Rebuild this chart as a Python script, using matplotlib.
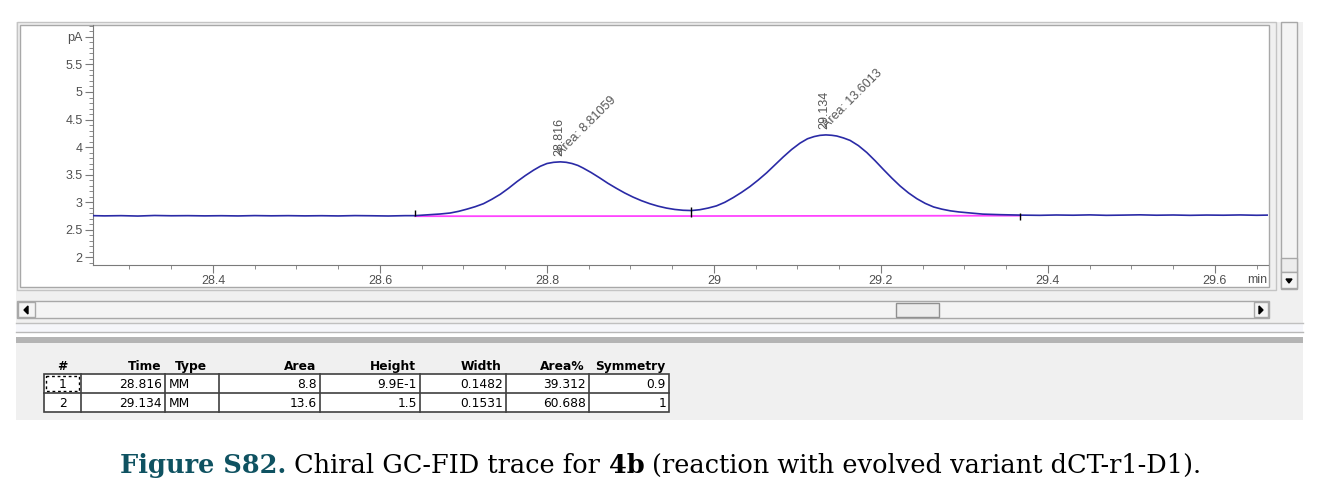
import matplotlib
matplotlib.use("Agg")
import matplotlib.pyplot as plt
from matplotlib.patches import Rectangle, Polygon
from matplotlib.ticker import MultipleLocator, FixedLocator, FixedFormatter

# ---- chromatogram trace (time in min, signal in pA)
trace_time = [28.256, 28.27, 28.29, 28.31, 28.33, 28.35, 28.37, 28.39, 28.41, 28.43,
              28.45, 28.47, 28.49, 28.51, 28.53, 28.55, 28.57, 28.59, 28.61, 28.63,
              28.642, 28.66, 28.672, 28.684, 28.694, 28.704, 28.714, 28.724, 28.734, 28.744,
              28.754, 28.764, 28.774, 28.784, 28.792, 28.80, 28.808, 28.816, 28.823, 28.83,
              28.837, 28.843, 28.853, 28.863, 28.873, 28.883, 28.893, 28.903, 28.913, 28.923,
              28.933, 28.943, 28.953, 28.963, 28.973, 28.983, 28.993, 29.003, 29.013, 29.023,
              29.033, 29.043, 29.053, 29.063, 29.073, 29.083, 29.093, 29.103, 29.112, 29.12,
              29.127, 29.134, 29.141, 29.147, 29.155, 29.163, 29.173, 29.183, 29.193, 29.203,
              29.213, 29.223, 29.233, 29.243, 29.253, 29.263, 29.273, 29.283, 29.293, 29.303,
              29.322, 29.343, 29.367,
              29.39, 29.41, 29.43, 29.45, 29.47, 29.49, 29.51, 29.53, 29.55, 29.57,
              29.59, 29.61, 29.63, 29.65, 29.663]
trace_signal = [2.752, 2.748, 2.752, 2.745, 2.755, 2.750, 2.752, 2.748, 2.751, 2.747,
                2.753, 2.749, 2.752, 2.748, 2.751, 2.747, 2.753, 2.750, 2.746, 2.752,
                2.752, 2.770, 2.782, 2.800, 2.830, 2.870, 2.915, 2.970, 3.050, 3.140,
                3.250, 3.370, 3.480, 3.580, 3.650, 3.700, 3.722, 3.730, 3.722, 3.700,
                3.665, 3.620, 3.535, 3.440, 3.340, 3.250, 3.165, 3.090, 3.025, 2.970,
                2.925, 2.890, 2.865, 2.850, 2.845, 2.860, 2.890, 2.930, 2.995, 3.080,
                3.175, 3.280, 3.400, 3.530, 3.675, 3.820, 3.955, 4.070, 4.150, 4.190,
                4.212, 4.220, 4.213, 4.200, 4.165, 4.120, 4.025, 3.900, 3.750, 3.590,
                3.435, 3.290, 3.165, 3.060, 2.975, 2.910, 2.870, 2.840, 2.820, 2.806,
                2.780, 2.770, 2.762,
                2.758, 2.764, 2.760, 2.766, 2.758, 2.762, 2.767, 2.760, 2.764, 2.758,
                2.763, 2.760, 2.765, 2.759, 2.762]

# integration baseline and event marks
base_time = [28.642, 28.973, 29.367]
base_signal = [2.742, 2.745, 2.752]
event_time = [28.642, 28.973, 29.367]
event_lo = [2.75, 2.73, 2.67]
event_hi = [2.855, 2.915, 2.80]

# peak table
peak_no = ["1", "2"]
peak_rt = [28.816, 29.134]
peak_type = ["MM", "MM"]
peak_area = ["8.8", "13.6"]
peak_height = ["9.9E-1", "1.5"]
peak_width = ["0.1482", "0.1531"]
peak_pct = ["39.312", "60.688"]
peak_sym = ["0.9", "1"]
peak_area_full = ["8.81059", "13.6013"]
peak_top = [3.73, 4.22]

x_labels = ["28.4", "28.6", "28.8", "29", "29.2", "29.4", "29.6"]
y_ticks = [2, 2.5, 3, 3.5, 4, 4.5, 5, 5.5, 6]
y_labels = ["2", "2.5", "3", "3.5", "4", "4.5", "5", "5.5", "pA"]

W, H = 1322, 498
fig = plt.figure(figsize=(W / 100, H / 100), dpi=100)
fig.patch.set_facecolor("white")

# background axes in pixel units for the window chrome, table and caption
bg = fig.add_axes([0, 0, 1, 1])
bg.set_xlim(0, W)
bg.set_ylim(H, 0)
bg.axis("off")
bg.set_zorder(0)


def box(x0, y0, x1, y1, fc, ec="none", lw=1.0):
    bg.add_patch(Rectangle((x0, y0), x1 - x0, y1 - y0, facecolor=fc, edgecolor=ec, linewidth=lw))


panel = "#f0f0f0"
edge = "#a8a8a8"
box(16, 22, 1303, 326, panel)
# chart frame
box(17, 22, 1276, 290, panel, "#c4c4c4")
box(20, 25, 1269, 287, "white", edge)
# vertical scrollbar
box(1281, 22, 1297, 289, "#f4f4f4", edge)
box(1281, 258, 1297, 272, "#ececec", edge)
box(1281, 272, 1297, 288, "#f4f4f4", edge)
bg.add_patch(Polygon([[1286, 279], [1292, 279], [1289, 283]], color="black"))
# horizontal scrollbar
box(17, 301, 1269, 318, "#f4f4f4", edge)
box(18, 302, 35, 317, "#f4f4f4", edge)
box(1254, 302, 1268, 317, "#f4f4f4", edge)
box(896, 303, 939, 317, "#ececec", "#909090")
bg.add_patch(Polygon([[24, 310], [28, 306], [28, 314]], color="black"))
bg.add_patch(Polygon([[1263, 310], [1259, 306], [1259, 314]], color="black"))
# splitter
box(16, 324, 1303, 332, "#f5f6fa")
bg.plot([16, 1303], [323, 323], color="#c0c0c0", lw=1)
bg.plot([16, 1303], [332, 332], color="#b8b8b8", lw=1)
box(16, 337, 1303, 343, "#b4b4b4")
box(16, 343, 1303, 420, panel)

# ---- table
cols = [44, 81, 165, 219, 320, 420, 506, 589, 669]
row_top = [374, 393]
row_h = 19
tfont = dict(family="DejaVu Sans", fontsize=8.8, color="black")
headers = ["#", "Time", "Type", "Area", "Height", "Width", "Area%", "Symmetry"]
for i, h in enumerate(headers):
    if i == 0:
        bg.text((cols[0] + cols[1]) / 2, 366, h, ha="center", va="center", weight="bold", **tfont)
    elif i == 2:
        bg.text(cols[2] + 10, 366, h, ha="left", va="center", weight="bold", **tfont)
    else:
        bg.text(cols[i + 1] - 4, 366, h, ha="right", va="center", weight="bold", **tfont)

box(cols[0], row_top[0], cols[-1], row_top[-1] + row_h, "white", "#404040", 1.2)
for c in cols[1:-1]:
    bg.plot([c, c], [row_top[0], row_top[-1] + row_h], color="#404040", lw=1.2)
bg.plot([cols[0], cols[-1]], [row_top[1], row_top[1]], color="#404040", lw=1.2)
# dashed focus box on the first cell
bg.add_patch(Rectangle((cols[0] + 2, row_top[0] + 2), cols[1] - cols[0] - 4, row_h - 4,
                       fill=False, edgecolor="black", linestyle=(0, (2, 2)), linewidth=1))

for r in range(2):
    yc = row_top[r] + row_h / 2 + 0.5
    cells = [peak_no[r], f"{peak_rt[r]:.3f}", peak_type[r], peak_area[r], peak_height[r],
             peak_width[r], peak_pct[r], peak_sym[r]]
    for i, val in enumerate(cells):
        if i == 0:
            bg.text((cols[0] + cols[1]) / 2, yc, val, ha="center", va="center", **tfont)
        elif i == 2:
            bg.text(cols[2] + 4, yc, val, ha="left", va="center", **tfont)
        else:
            bg.text(cols[i + 1] - 3, yc, val, ha="right", va="center", **tfont)

# ---- caption, drawn piece by piece
renderer = fig.canvas.get_renderer()
cap_size = 18.45
pieces = [("Figure S82.", "bold", "#0f5261"),
          ("Chiral GC-FID trace for", "normal", "black"),
          ("4b", "bold", "black"),
          ("(reaction with evolved variant dCT-r1-D1).", "normal", "black")]
sp = bg.text(0, 0, "x x", fontsize=cap_size, family="DejaVu Serif")
sp2 = bg.text(0, 0, "xx", fontsize=cap_size, family="DejaVu Serif")
space_w = sp.get_window_extent(renderer).width - sp2.get_window_extent(renderer).width
sp.remove()
sp2.remove()
cx = 120
for txt, wt, col in pieces:
    t = bg.text(cx, 465, txt, fontsize=cap_size, family="DejaVu Serif", weight=wt,
                color=col, ha="left", va="center")
    cx += t.get_window_extent(renderer).width + space_w

# ---- chromatogram axes
x0, x1 = 93, 1268
y0, y1 = 25, 265
ax = fig.add_axes([x0 / W, 1 - y1 / H, (x1 - x0) / W, (y1 - y0) / H])
ax.set_zorder(2)
ax.patch.set_alpha(0)
ax.plot(trace_time, trace_signal, color="#2a2aa6", lw=1.2, zorder=3)
ax.plot(base_time, base_signal, color="#ff44ff", lw=1.3, zorder=2)
ax.vlines(event_time, event_lo, event_hi, color="black", lw=1.0, zorder=4)

ax.set_xlim(28.2563, 29.6635)
ax.set_ylim(1.855, 6.218)
for s in ["top", "right"]:
    ax.spines[s].set_visible(False)
for s in ["left", "bottom"]:
    ax.spines[s].set_color("#7a7a7a")

ax.xaxis.set_major_locator(FixedLocator([28.4, 28.6, 28.8, 29.0, 29.2, 29.4, 29.6]))
ax.xaxis.set_major_formatter(FixedFormatter(x_labels))
ax.xaxis.set_minor_locator(MultipleLocator(0.05))
ax.yaxis.set_major_locator(FixedLocator(y_ticks))
ax.yaxis.set_major_formatter(FixedFormatter(y_labels))
ax.yaxis.set_minor_locator(MultipleLocator(0.1))
lab_font = dict(family="Liberation Sans", size=9)
for lab in ax.get_xticklabels() + ax.get_yticklabels():
    lab.set_fontfamily("Liberation Sans")
    lab.set_fontsize(9)
ax.tick_params(axis="both", which="major", length=6, color="#7a7a7a", labelcolor="#505050")
ax.tick_params(axis="both", which="minor", length=3, color="#7a7a7a")
ax.tick_params(axis="x", which="major", pad=1.5)
ax.tick_params(axis="y", which="major", pad=1.5)
ax.text(29.65, -0.038, "min", transform=ax.get_xaxis_transform(), ha="center", va="top",
        color="#505050", **lab_font)

for rt, top, area in zip(peak_rt, peak_top, peak_area_full):
    ax.annotate(f"{rt:.3f}", (rt, top), xytext=(-1, 4), textcoords="offset points",
                rotation=90, ha="center", va="bottom", color="#555555",
                family="Liberation Sans", fontsize=9)
    ax.annotate(f"Area: {area}", (rt, top), xytext=(2, 3), textcoords="offset points",
                rotation=45, rotation_mode="anchor", ha="left", va="bottom", color="#555555",
                family="Liberation Sans", fontsize=9)

fig.savefig("out.png", dpi=100)
